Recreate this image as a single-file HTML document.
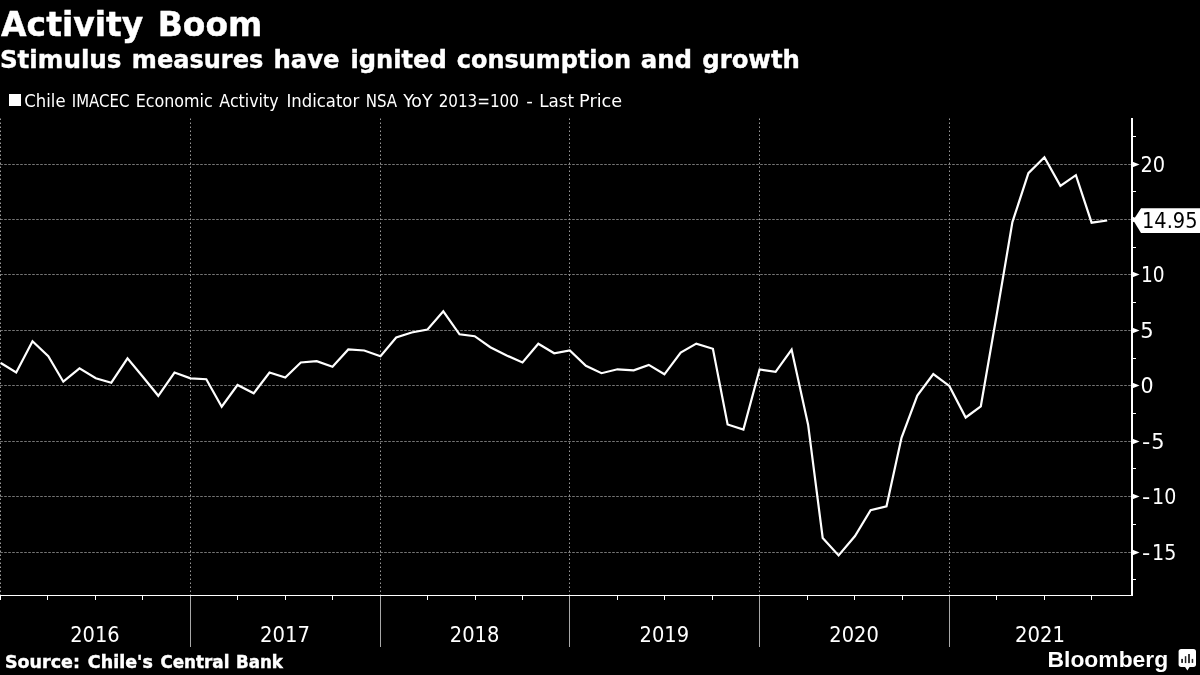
<!DOCTYPE html>
<html lang="en"><head><meta charset="utf-8"><title>Activity Boom</title>
<style>
html,body{margin:0;padding:0;background:#000;}
body{width:1200px;height:675px;overflow:hidden;}
svg{display:block;}
text{font-family:"DejaVu Sans","Liberation Sans",sans-serif;fill:#fff;}
.b{font-weight:bold;stroke:#fff;stroke-width:0.4px;}
.c{font-family:"DejaVu Sans Condensed","DejaVu Sans","Liberation Sans",sans-serif;}
.lb{font-family:"Liberation Sans",sans-serif;font-weight:bold;}
</style></head><body>
<svg width="1200" height="675" viewBox="0 0 1200 675">
<rect width="1200" height="675" fill="#000"/>
<text class="b" id="title" y="36" font-size="33"><tspan x="1.03" textLength="142.36" lengthAdjust="spacingAndGlyphs">Activity</tspan> <tspan x="157.71" textLength="104.62" lengthAdjust="spacingAndGlyphs">Boom</tspan></text>
<text class="b" id="subtitle" y="68" font-size="24"><tspan x="-0.08" textLength="121.55" lengthAdjust="spacingAndGlyphs">Stimulus</tspan> <tspan x="131.82" textLength="131.56" lengthAdjust="spacingAndGlyphs">measures</tspan> <tspan x="273.43" textLength="66.07" lengthAdjust="spacingAndGlyphs">have</tspan> <tspan x="350.45" textLength="96.25" lengthAdjust="spacingAndGlyphs">ignited</tspan> <tspan x="456.78" textLength="174.25" lengthAdjust="spacingAndGlyphs">consumption</tspan> <tspan x="640.66" textLength="51.35" lengthAdjust="spacingAndGlyphs">and</tspan> <tspan x="702.20" textLength="97.68" lengthAdjust="spacingAndGlyphs">growth</tspan></text>
<rect x="9" y="94" width="12" height="12" fill="#fff"/>
<text class="c" id="legend" y="107" font-size="17"><tspan x="24.39" textLength="41.18" lengthAdjust="spacingAndGlyphs">Chile</tspan> <tspan x="71.85" textLength="57.47" lengthAdjust="spacingAndGlyphs">IMACEC</tspan> <tspan x="135.65" textLength="77.02" lengthAdjust="spacingAndGlyphs">Economic</tspan> <tspan x="219.37" textLength="59.20" lengthAdjust="spacingAndGlyphs">Activity</tspan> <tspan x="286.50" textLength="72.70" lengthAdjust="spacingAndGlyphs">Indicator</tspan> <tspan x="365.74" textLength="31.40" lengthAdjust="spacingAndGlyphs">NSA</tspan> <tspan x="403.30" textLength="29.17" lengthAdjust="spacingAndGlyphs">YoY</tspan> <tspan x="438.71" textLength="80.10" lengthAdjust="spacingAndGlyphs">2013=100</tspan> <tspan x="526.28" textLength="6.63" lengthAdjust="spacingAndGlyphs">-</tspan> <tspan x="539.17" textLength="34.92" lengthAdjust="spacingAndGlyphs">Last</tspan> <tspan x="579.08" textLength="43.06" lengthAdjust="spacingAndGlyphs">Price</tspan></text>
<g stroke="#757575" stroke-width="1" stroke-dasharray="2.6 1.4" fill="none">
<line x1="0.2" y1="164.5" x2="1131" y2="164.5"/>
<line x1="0.2" y1="219.5" x2="1131" y2="219.5"/>
<line x1="0.2" y1="274.5" x2="1131" y2="274.5"/>
<line x1="0.2" y1="330.5" x2="1131" y2="330.5"/>
<line x1="0.2" y1="385.5" x2="1131" y2="385.5"/>
<line x1="0.2" y1="441.5" x2="1131" y2="441.5"/>
<line x1="0.2" y1="496.5" x2="1131" y2="496.5"/>
<line x1="0.2" y1="552.5" x2="1131" y2="552.5"/>
</g>
<g stroke="#9a9a9a" stroke-width="1" stroke-dasharray="1.5 2.5" fill="none">
<line x1="0.5" y1="118.5" x2="0.5" y2="595"/>
<line x1="190.5" y1="118.5" x2="190.5" y2="595"/>
<line x1="380.5" y1="118.5" x2="380.5" y2="595"/>
<line x1="569.5" y1="118.5" x2="569.5" y2="595"/>
<line x1="759.5" y1="118.5" x2="759.5" y2="595"/>
<line x1="949.5" y1="118.5" x2="949.5" y2="595"/>
</g>
<g fill="#fff" shape-rendering="crispEdges">
<rect x="1131" y="118" width="2" height="478"/>
<rect x="0" y="595" width="1133" height="1"/>
</g>
<g fill="#fff">
<rect x="1132" y="136" width="4" height="1"/>
<path d="M1132 161.5 L1139.6 164.5 L1132 167.5 Z"/>
<rect x="1132" y="191" width="4" height="1"/>
<path d="M1132 216.5 L1139.6 219.5 L1132 222.5 Z"/>
<rect x="1132" y="247" width="4" height="1"/>
<path d="M1132 271.5 L1139.6 274.5 L1132 277.5 Z"/>
<rect x="1132" y="302" width="4" height="1"/>
<path d="M1132 327.5 L1139.6 330.5 L1132 333.5 Z"/>
<rect x="1132" y="358" width="4" height="1"/>
<path d="M1132 382.5 L1139.6 385.5 L1132 388.5 Z"/>
<rect x="1132" y="413" width="4" height="1"/>
<path d="M1132 438.5 L1139.6 441.5 L1132 444.5 Z"/>
<rect x="1132" y="468" width="4" height="1"/>
<path d="M1132 493.5 L1139.6 496.5 L1132 499.5 Z"/>
<rect x="1132" y="524" width="4" height="1"/>
<path d="M1132 549.5 L1139.6 552.5 L1132 555.5 Z"/>
<rect x="1132" y="579" width="4" height="1"/>
</g>
<g id="ylabels">
<text class="c" x="1140.40" y="171.8" font-size="21" textLength="24.69" lengthAdjust="spacingAndGlyphs">20</text>
<text class="c" x="1140.89" y="281.8" font-size="21" textLength="23.64" lengthAdjust="spacingAndGlyphs">10</text>
<text class="c" x="1140.15" y="337.8" font-size="21" textLength="13.47" lengthAdjust="spacingAndGlyphs">5</text>
<text class="c" x="1140.42" y="392.8" font-size="21" textLength="13.15" lengthAdjust="spacingAndGlyphs">0</text>
<text class="c" y="448.8" font-size="21"><tspan x="1142.05" textLength="8.29" lengthAdjust="spacingAndGlyphs">-</tspan><tspan x="1151.17" textLength="13.33" lengthAdjust="spacingAndGlyphs">5</tspan></text>
<text class="c" y="503.8" font-size="21"><tspan x="1142.05" textLength="8.29" lengthAdjust="spacingAndGlyphs">-</tspan><tspan x="1152.04" textLength="24.22" lengthAdjust="spacingAndGlyphs">10</tspan></text>
<text class="c" y="559.8" font-size="21"><tspan x="1142.05" textLength="8.29" lengthAdjust="spacingAndGlyphs">-</tspan><tspan x="1152.03" textLength="24.31" lengthAdjust="spacingAndGlyphs">15</tspan></text>
</g>
<g fill="#fff" shape-rendering="crispEdges">
<rect x="0" y="596" width="1" height="4"/>
<rect x="47" y="596" width="1" height="4"/>
<rect x="95" y="596" width="1" height="4"/>
<rect x="142" y="596" width="1" height="4"/>
<rect x="190" y="596" width="1" height="51" fill="#a8a8a8"/>
<rect x="237" y="596" width="1" height="4"/>
<rect x="285" y="596" width="1" height="4"/>
<rect x="332" y="596" width="1" height="4"/>
<rect x="380" y="596" width="1" height="51" fill="#a8a8a8"/>
<rect x="427" y="596" width="1" height="4"/>
<rect x="475" y="596" width="1" height="4"/>
<rect x="522" y="596" width="1" height="4"/>
<rect x="569" y="596" width="1" height="51" fill="#a8a8a8"/>
<rect x="617" y="596" width="1" height="4"/>
<rect x="664" y="596" width="1" height="4"/>
<rect x="712" y="596" width="1" height="4"/>
<rect x="759" y="596" width="1" height="51" fill="#a8a8a8"/>
<rect x="807" y="596" width="1" height="4"/>
<rect x="854" y="596" width="1" height="4"/>
<rect x="902" y="596" width="1" height="4"/>
<rect x="949" y="596" width="1" height="51" fill="#a8a8a8"/>
<rect x="996" y="596" width="1" height="4"/>
<rect x="1044" y="596" width="1" height="4"/>
<rect x="1091" y="596" width="1" height="4"/>
</g>
<g id="xlabels">
<text class="c" x="70.20" y="641.8" font-size="21" textLength="49.42" lengthAdjust="spacingAndGlyphs">2016</text>
<text class="c" x="259.98" y="641.8" font-size="21" textLength="49.89" lengthAdjust="spacingAndGlyphs">2017</text>
<text class="c" x="449.79" y="641.8" font-size="21" textLength="49.54" lengthAdjust="spacingAndGlyphs">2018</text>
<text class="c" x="639.59" y="641.8" font-size="21" textLength="49.54" lengthAdjust="spacingAndGlyphs">2019</text>
<text class="c" x="829.39" y="641.8" font-size="21" textLength="49.48" lengthAdjust="spacingAndGlyphs">2020</text>
<text class="c" x="1015.08" y="641.8" font-size="21" textLength="50.00" lengthAdjust="spacingAndGlyphs">2021</text>
</g>
<polyline points="0.8,363.0 16.2,372.5 32.5,341.2 48.3,356.3 63.3,381.7 79.5,368.3 95.8,378.3 111.3,382.7 127.5,358.3 143.0,377.0 158.3,395.8 174.5,372.5 190.5,378.3 206.3,379.2 221.7,406.7 237.5,385.0 253.7,393.3 269.5,372.5 285.3,377.5 300.8,362.5 316.7,361.2 332.5,366.7 348.3,349.5 364.2,350.5 380.5,356.3 396.2,337.5 411.7,332.5 427.5,329.5 443.3,311.3 459.5,334.3 474.7,336.2 490.3,347.2 506.7,355.5 522.5,362.5 538.3,343.7 554.2,353.3 569.8,350.4 585.9,365.8 601.5,373.2 617.5,369.3 633.7,370.3 648.8,364.9 664.4,374.3 680.7,352.5 696.3,343.6 712.9,348.8 727.6,424.5 743.4,429.5 759.6,369.5 775.6,371.8 791.6,349.6 808.1,424.7 822.7,538.0 838.6,555.4 855.0,536.0 870.6,510.3 886.5,506.3 901.5,437.8 917.3,395.6 933.3,374.1 949.3,385.9 965.7,417.5 980.8,406.3 997.0,313.0 1012.4,222.1 1028.4,173.2 1044.4,157.2 1060.4,185.9 1075.9,175.2 1091.6,222.7 1107.2,220.5" fill="none" stroke="#fff" stroke-width="2.2" stroke-linejoin="miter" stroke-linecap="butt"/>
<path d="M1133.2 220.2 L1141 208.2 L1200 208.2 L1200 232.9 L1141 232.9 Z" fill="#fff"/>
<text class="c" x="1142.00" y="228.4" font-size="21" textLength="55.57" lengthAdjust="spacingAndGlyphs" style="fill:#000">14.95</text>
<text class="b" id="source" y="668" font-size="17"><tspan x="4.98" textLength="75.00" lengthAdjust="spacingAndGlyphs">Source:</tspan> <tspan x="87.87" textLength="64.97" lengthAdjust="spacingAndGlyphs">Chile's</tspan> <tspan x="160.41" textLength="68.98" lengthAdjust="spacingAndGlyphs">Central</tspan> <tspan x="235.96" textLength="46.99" lengthAdjust="spacingAndGlyphs">Bank</tspan></text>
<text class="lb" x="1047.56" y="667" font-size="22.3" textLength="120.64" lengthAdjust="spacingAndGlyphs">Bloomberg</text>
<g id="bbicon"><rect x="1178.6" y="649" width="17.4" height="17.9" rx="2.6" fill="#fff"/><path d="M1184.4 666 L1187.4 670.5 L1190.2 666 Z" fill="#fff"/><g fill="#222"><rect x="1181.2" y="658.9" width="1.8" height="4"/><rect x="1184.8" y="656.2" width="1.5" height="6.9"/><rect x="1188.1" y="654" width="1.8" height="9.1"/><rect x="1191.7" y="658.9" width="1.5" height="4"/></g></g>
</svg>
</body></html>
